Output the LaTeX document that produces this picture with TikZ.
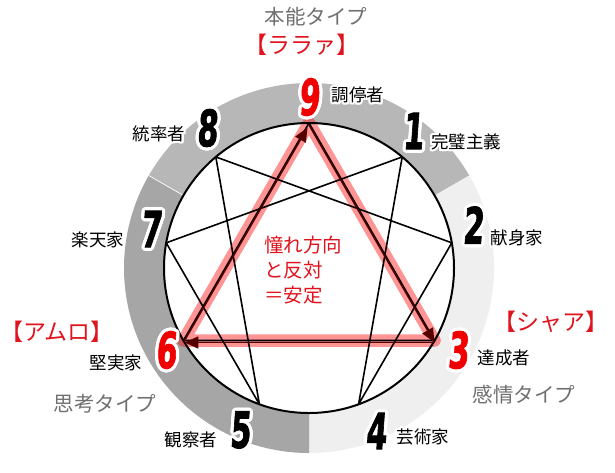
\documentclass[tikz,border=0pt]{standalone}
\usepackage{fontspec}
\usepackage{graphicx}
\usetikzlibrary{arrows.meta}
\newfontfamily\jp{Noto Sans CJK JP}
\newfontfamily\numfont{DejaVu Sans}[FakeSlant=0.12,FakeBold=2]
\definecolor{ringtop}{HTML}{B7B7B7}
\definecolor{ringleft}{HTML}{A6A6A6}
\definecolor{ringright}{HTML}{EFEFEF}
\definecolor{numred}{HTML}{F00000}
\definecolor{txtred}{HTML}{E0141E}
\definecolor{ttlgray}{HTML}{707070}
\definecolor{arrowred}{HTML}{540000}
\newsavebox\halobox
\newcommand\halo[3]{%
  \setbox\halobox=\hbox{#3}%
  \foreach \hang in {0,22.5,...,337.5}{%
    \pgfmathsetlengthmacro\hx{#1*cos(\hang)}%
    \pgfmathsetlengthmacro\hy{#1*sin(\hang)}%
    \rlap{\kern\hx\raise\hy\hbox{\color{white}\copy\halobox}}%
  }%
  \hbox{\color{#2}\copy\halobox}}
\newcommand\bignum[2]{\halo{3.2}{#1}{\scalebox{0.6}[1]{\numfont\bfseries\fontsize{50}{50}\selectfont #2}}}
\tikzset{
  lbl/.style={inner sep=0pt, font=\jp\fontsize{17.5}{17.5}\selectfont},
  num/.style={inner sep=0pt},
  ttl/.style={inner sep=0pt, font=\jp\fontsize{20.5}{20.5}\selectfont, text=ttlgray},
  redttl/.style={inner sep=0pt, font=\jp\fontsize{23}{23}\selectfont, text=txtred},
  enn/.style={line width=1.6pt, line join=round},
  band/.style={red, opacity=0.42, line width=12.5pt, line join=round},
  arr/.style={arrowred, line width=1.5pt, -{Triangle[length=14pt,width=12pt]}}
}
\begin{document}
\begin{tikzpicture}[x=1pt,y=-1pt]
\useasboundingbox (0,0) rectangle (615,472);
\fill[white] (0,0) rectangle (615,472);
\begin{scope}[shift={(309,268)}]
  \fill[ringtop] (-150:185) arc[start angle=-150,end angle=-30,radius=185] -- (-30:145) arc[start angle=-30,end angle=-150,radius=145] -- cycle;
  \fill[ringright] (-30:185) arc[start angle=-30,end angle=90,radius=185] -- (90:145) arc[start angle=90,end angle=-30,radius=145] -- cycle;
  \fill[ringleft] (90:185) arc[start angle=90,end angle=210,radius=185] -- (210:145) arc[start angle=210,end angle=90,radius=145] -- cycle;
  \draw[white, line width=0.7pt] (-150:146) -- (-150:185);
  \fill[white] (0,0) circle[radius=145];
  \foreach \n/\a in {9/-90,1/-50,2/-10,3/30,4/70,5/110,6/150,7/190,8/230}
    \coordinate (p\n) at (\a:145);
\end{scope}
\draw[band] (p9) -- (p3) -- (p6) -- cycle;
\draw[line width=2pt] (309,268) circle[radius=145];
\draw[enn] (p1) -- (p4) -- (p2) -- (p8) -- (p5) -- (p7) -- cycle;
\draw[enn] (p9) -- (p3) -- (p6) -- cycle;
\draw[arr, shorten >=3pt] ([yshift=-2pt]p6) -- ([yshift=-2pt]p9);
\draw[arr] ([yshift=-2pt]p9) -- ([yshift=-2pt]p3);
\draw[arr, shorten >=1pt] ([yshift=-2pt]p3) -- ([yshift=-2pt]p6);
% numbers
\node[num] (n9) at (309,97) {\bignum{numred}{9}};
\node[num] (n1) at (413,131) {\bignum{black}{1}};
\node[num] (n2) at (473,225) {\bignum{black}{2}};
\node[num] (n3) at (458,350) {\bignum{numred}{3}};
\node[num] (n4) at (376,431) {\bignum{black}{4}};
\node[num] (n5) at (240,430) {\bignum{black}{5}};
\node[num] (n6) at (166,350) {\bignum{numred}{6}};
\node[num] (n7) at (151,229) {\bignum{black}{7}};
\node[num] (n8) at (207,128) {\bignum{black}{8}};
% labels
\node[lbl] (l9) at (358,95) {\halo{2}{black}{調停者}};
\node[lbl] (l1) at (466,142) {\halo{2}{black}{完璧主義}};
\node[lbl] (l2) at (517,238) {\halo{2}{black}{献身家}};
\node[lbl] (l3) at (504,358) {\halo{2}{black}{達成者}};
\node[lbl] (l4) at (423,437) {\halo{2}{black}{芸術家}};
\node[lbl] (l5) at (191,440) {\halo{2}{black}{観察者}};
\node[lbl] (l6) at (116,363) {\halo{2}{black}{堅実家}};
\node[lbl] (l7) at (98,240) {\halo{2}{black}{楽天家}};
\node[lbl] (l8) at (159,134) {\halo{2}{black}{統率者}};
% titles
\node[ttl] (tinst) at (316,17) {本能タイプ};
\node[ttl] (tthink) at (105,404) {思考タイプ};
\node[ttl] (tfeel) at (524,395) {感情タイプ};
\node[redttl] (rlalah) at (302,45) {【ララァ】};
\node[redttl] (ramuro) at (57,332) {【アムロ】};
\node[redttl] (rchar) at (551,322) {【シャア】};
\node[inner sep=0pt, font=\jp\fontsize{19.5}{25}\selectfont, text=txtred, align=left, anchor=west] (mid) at (264,270) {憧れ方向\\と反対\\＝安定};
\end{tikzpicture}
\end{document}
